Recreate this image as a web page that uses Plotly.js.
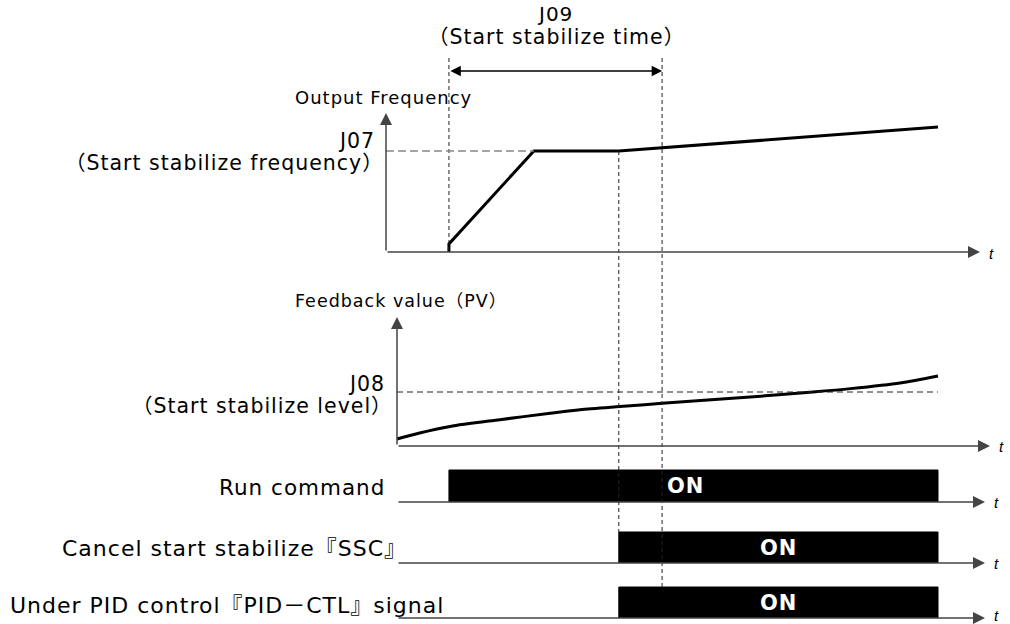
<!DOCTYPE html>
<html>
<head>
<meta charset="utf-8">
<script src="https://cdn.plot.ly/plotly-3.0.1.min.js"></script>
<style>
  body { margin: 0; background: #fff; }
  #chart { width: 1010px; height: 624px; }
  text[style*="DejaVu"] { letter-spacing: 1px; }
</style>
</head>
<body>
<div id="chart"></div>
<script>
// time in arbitrary units, run command switches on at runOn
const runOn = 0.96;
const rampEnd = 2.53;
const sscOn = 4.10;
const j09End = 4.90;
const runOff = 10;

// output frequency (Hz)
const freqT = [0.96, 0.96, 2.53, 4.10, 10];
const freqHz = [0, 2.4, 30, 30, 37.1];
const j07 = 30;

// feedback value (%)
const pvT = [0, 0.4, 0.98, 1.9, 2.83, 3.38, 4.12, 4.9, 6.53, 7.69, 8.38, 9.3, 10];
const pvPct = [5.2, 9.5, 14.5, 19.5, 24.2, 26.8, 29.2, 31.6, 36.3, 40, 42.5, 46.7, 51.9];
const j08 = 40;

// on/off signals
const sigNames = ['Run command', 'Cancel start stabilize『SSC』', 'Under PID control『PID－CTL』signal'];
const sigOn = [0.96, 4.10, 4.10];
const sigOff = [10, 10, 10];

const W = 1010, H = 624;
const pxPerT = 54.1, t0px = 397;
function py(p) { return 1 - p / H; }
function tAt(p) { return (p - t0px) / pxPerT; }

// y axis domain/range from pixel position of 0 and of a reference value
function panel(zeroPx, refPx, refVal, topPx, botPx) {
    const k = (zeroPx - refPx) / refVal;
    return {
        domain: [1 - botPx / H, 1 - topPx / H],
        range: [(zeroPx - botPx) / k, (zeroPx - topPx) / k],
        visible: false, fixedrange: true, anchor: 'x'
    };
}

const font = 'DejaVu Sans, Noto Sans CJK JP';
const axColor = '#444';

const data = [
    {
        x: freqT, y: freqHz, yaxis: 'y', mode: 'lines',
        line: { color: '#000', width: 3 }, hoverinfo: 'skip'
    },
    {
        x: pvT, y: pvPct, yaxis: 'y2', mode: 'lines',
        line: { color: '#000', width: 3, shape: 'spline', smoothing: 0.8 }, hoverinfo: 'skip'
    }
];

const sigAxes = ['y3', 'y4', 'y5'];
for (let i = 0; i < sigNames.length; i++) {
    data.push({
        x: [sigOn[i], sigOn[i], sigOff[i], sigOff[i]],
        y: [0, 1, 1, 0],
        yaxis: sigAxes[i], mode: 'lines', fill: 'toself',
        fillcolor: '#000', line: { color: '#000', width: 1 }, hoverinfo: 'skip'
    });
}

function arrow(xTip, yTip, xTail, yTail, yref) {
    return {
        x: xTip, y: yTip, ax: xTail, ay: yTail,
        xref: 'x', yref: yref, axref: 'x', ayref: yref,
        text: '', showarrow: true, arrowhead: 2, arrowsize: 1.6,
        arrowwidth: 1.5, arrowcolor: axColor, standoff: 0
    };
}

function label(text, x, y, anchor, size) {
    return {
        text: text, x: x / W, y: py(y), xref: 'paper', yref: 'paper',
        xanchor: anchor, yanchor: 'middle', showarrow: false,
        font: { family: font, size: size, color: '#000' }
    };
}

function tLabel(xTip, y) {
    return {
        text: 't', x: xTip / W + 0.007, y: py(y), xref: 'paper', yref: 'paper',
        xanchor: 'left', yanchor: 'middle', showarrow: false,
        font: { family: 'Liberation Sans', size: 15, style: 'italic', color: '#000' }
    };
}

const annotations = [
    // axes of the frequency panel
    arrow(tAt(980), 0, tAt(386), 0, 'y'),
    arrow(tAt(386), 41.3, tAt(386), 0, 'y'),
    // axes of the feedback panel
    arrow(tAt(990), 0, 0, 0, 'y2'),
    arrow(0, 95.6, 0, 0, 'y2'),
    // signal base lines
    arrow(tAt(985), 0, 0, 0, 'y3'),
    arrow(tAt(985), 0, 0, 0, 'y4'),
    arrow(tAt(985), 0, 0, 0, 'y5'),
    // J09 time span
    {
        x: j09End, ax: runOn, xref: 'x', axref: 'x',
        y: py(71), yref: 'paper', ay: 0, ayref: 'pixel',
        text: '', showarrow: true, arrowside: 'end+start',
        arrowhead: 2, startarrowhead: 2, arrowsize: 1.6, startarrowsize: 1.6,
        arrowwidth: 1.3, arrowcolor: '#000', standoff: 0, startstandoff: 0
    },
    tLabel(980, 253), tLabel(990, 446),
    tLabel(985, 502), tLabel(985, 563), tLabel(985, 615),
    label('J09', 555, 14, 'center', 20),
    label('（Start stabilize time）', 556, 37, 'center', 20.5),
    label('Output Frequency', 293, 97, 'left', 18),
    label('J07', 377, 141, 'right', 20.5),
    label('（Start stabilize frequency）', 386, 163, 'right', 20.5),
    label('Feedback value（PV）', 293, 301, 'left', 17.5),
    label('J08', 387, 384, 'right', 20.5),
    label('（Start stabilize level）', 395, 406, 'right', 20.5),
    label(sigNames[0], 387, 487, 'right', 21.5),
    label(sigNames[1], 409, 548, 'right', 22),
    label(sigNames[2], 8, 605, 'left', 22)
];

for (let i = 0; i < sigNames.length; i++) {
    annotations.push({
        text: '<b>ON</b>', x: (sigOn[i] + sigOff[i]) / 2 - (i === 0 ? 0.15 : 0), y: 0.5,
        xref: 'x', yref: sigAxes[i], showarrow: false,
        font: { family: 'DejaVu Sans', size: 21, color: '#fff' }
    });
}

const guide = { color: '#222', width: 1, dash: '4px,3px' };
const shapes = [
    { type: 'line', xref: 'x', yref: 'paper', x0: runOn, x1: runOn, y0: py(58), y1: py(250), line: guide },
    { type: 'line', xref: 'x', yref: 'paper', x0: sscOn, x1: sscOn, y0: py(151), y1: py(532), line: guide },
    { type: 'line', xref: 'x', yref: 'paper', x0: j09End, x1: j09End, y0: py(58), y1: py(587), line: guide },
    { type: 'line', xref: 'x', yref: 'y', x0: tAt(386), x1: rampEnd, y0: j07, y1: j07,
      line: { color: '#888', width: 1.5, dash: '8px,4px' } },
    { type: 'line', xref: 'x', yref: 'y2', x0: 0, x1: runOff, y0: j08, y1: j08,
      line: { color: '#222', width: 1, dash: '6px,4px' } }
];

const layout = {
    width: W, height: H, autosize: false,
    margin: { l: 0, r: 0, t: 0, b: 0 },
    paper_bgcolor: '#fff', plot_bgcolor: '#fff',
    showlegend: false,
    xaxis: { range: [tAt(0), tAt(W)], visible: false, fixedrange: true },
    yaxis: panel(252, 151, j07, 40, 270),
    yaxis2: panel(446, 392, j08, 290, 455),
    yaxis3: panel(502, 470, 1, 462, 510),
    yaxis4: panel(563, 532, 1, 522, 571),
    yaxis5: panel(618, 587, 1, 578, 624),
    shapes: shapes,
    annotations: annotations
};

Plotly.newPlot('chart', data, layout, { displayModeBar: false, staticPlot: true });
</script>
</body>
</html>
